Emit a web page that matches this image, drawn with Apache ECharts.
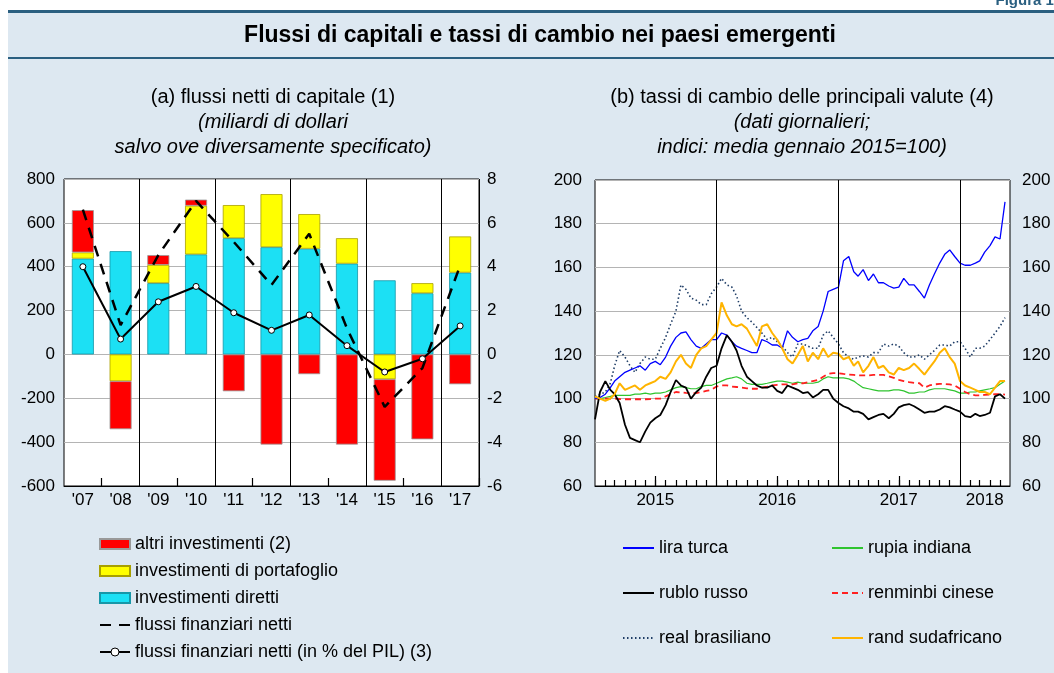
<!DOCTYPE html>
<html>
<head>
<meta charset="utf-8">
<script src="https://cdn.jsdelivr.net/npm/echarts@6/dist/echarts.min.js"></script>
<style>
html, body { margin: 0; padding: 0; background: #fff; }
#chart { width: 1054px; height: 673px; }
</style>
</head>
<body>
<div id="chart"></div>
<script>
// (a) flussi netti di capitale, miliardi di dollari
const anni = ["'07", "'08", "'09", "'10", "'11", "'12", "'13", "'14", "'15", "'16", "'17"];
const investimentiDiretti = [437, 471, 325, 456, 530, 489, 482, 414, 338, 279, 373];
const investimentiPortafoglio = [28, -122, 83, 222, 151, 242, 158, 116, -113, 46, 165];
const altriInvestimenti = [193, -219, 45, 28, -168, -411, -90, -411, -463, -387, -136];
const flussiNetti = [660, 134, 453, 700, 513, 317, 550, 119, -239, -62, 405];
const flussiPil = [4.0, 0.7, 2.4, 3.1, 1.9, 1.1, 1.8, 0.4, -0.8, -0.2, 1.3];

// (b) tassi di cambio, valori quindicinali (gen. 2015 - mag. 2018)
const liraTurca = [100, 100.5, 102, 105, 108, 110, 112, 113, 114, 115, 113, 116, 117, 115.5, 119, 124, 128, 130,
  130.5, 127, 124, 123, 125, 127, 127, 130, 129, 126, 124, 123, 122, 121, 121, 127,
  126, 124.5, 124.5, 123, 131, 128, 126, 127, 127.5, 131, 133, 140, 149, 150, 151, 163,
  165, 158, 156, 159, 154, 157, 153, 153, 151.5, 150.5, 151, 155, 152, 152, 149, 146,
  152, 157, 162, 166, 168, 165, 162, 161, 161, 162, 163, 167, 170, 174, 173, 190];
const rubloRusso = [90.5, 103, 108, 104, 102, 98, 88, 82, 81, 80, 85, 89, 91, 92.5, 97, 103, 108.5, 106,
  105, 100, 103, 105, 110, 114, 115, 123, 129, 126, 122, 115, 110, 108, 106, 105,
  105, 106, 103.5, 102.5, 106, 105, 104, 102.5, 103, 100.5, 102, 104, 104, 100, 98, 96.5,
  95.5, 94, 94, 93, 90.5, 91.5, 92.5, 93, 91, 93, 96, 97, 97.5, 96.5, 95, 93.5,
  94, 94, 95, 96.5, 96, 95, 94, 92, 91.5, 93, 92, 92.5, 93.5, 101, 102, 100];
const realBrasiliano = [101, 102, 103, 107, 115, 122, 119, 115, 112, 116, 119, 118, 118, 123, 128, 134, 140, 152,
  150, 146, 145, 143, 143, 148, 151, 155, 152, 151, 147, 140, 137, 135, 132.5, 130,
  127, 128, 126, 124, 121, 119, 125, 125, 124, 123, 123, 129, 131, 128, 125, 121,
  119, 118, 119, 119.5, 119, 121, 121, 125, 124, 125, 124, 121, 119, 119, 120, 118,
  120, 122, 124.5, 124.5, 124, 126, 126, 123, 119, 123, 123, 124, 127, 130, 133, 137];
const rupiaIndiana = [100, 100, 100.5, 101, 101.5, 101.5, 101.5, 101.5, 102, 102, 102.5, 102, 102.5, 102.5, 103, 104, 105, 105.5,
  105, 104.5, 104.5, 105.5, 106, 106, 107, 108, 109, 109.5, 110, 109, 107, 106.5, 106.5, 106.5,
  107, 107.5, 108, 108, 107.5, 107, 107.5, 107, 107, 107, 107.5, 109, 110, 109.5, 109.5, 109.5,
  109, 108, 106.5, 105, 104.5, 104, 103.5, 103.5, 103.5, 104, 104, 103.5, 102.5, 102.5, 103, 103,
  104, 104.5, 104.5, 104.5, 104, 103.5, 102.5, 102.5, 103, 103, 103.5, 104, 104.5, 105, 106.5, 108];
const renminbiCinese = [100, 100, 100, 100, 100, 99.8, 99.7, 99.7, 99.7, 99.7, 99.7, 99.8, 100, 100, 101, 102, 103, 102.8,
  102.6, 102.5, 102.5, 103, 103.5, 104, 105.5, 106, 106, 105.5, 105.3, 105, 104.7, 104.5, 104.5, 105,
  105.5, 106, 106.3, 106.5, 106.5, 106.5, 107, 107, 107.5, 108, 108.5, 110, 111.3, 111.6, 111.6, 111.3,
  111, 110.8, 110.6, 110.6, 110.6, 110.8, 110.9, 110.8, 110.2, 109.5, 108.6, 108, 107.5, 107.2, 107, 105,
  106, 106.5, 106.7, 106.7, 106.5, 106, 104.5, 103, 102, 101.5, 101.5, 101.7, 101.8, 102, 102, 101.8];
const randSudafricano = [101, 100, 99, 100, 102, 107, 104, 105, 106, 104, 106, 107, 108, 110, 109, 112, 117, 120,
  116, 114, 120, 123, 124, 127, 130, 144, 138, 134, 133, 134, 132, 128, 124, 133,
  134, 130, 127, 123, 118, 116, 120, 124, 117, 121, 118, 123, 119, 121, 120.5, 118,
  119, 115, 117, 112, 115, 119, 114, 115, 112, 111, 114, 113, 114, 116, 113.5, 111,
  114, 117, 121, 123, 119, 116, 108, 106, 105, 104, 103, 103, 102, 105, 108, 108];

const ts = (y, m, d) => new Date(y, m, d).getTime();
// date: il 1 e il 16 di ogni mese
const date = [];
for (let i = 0; i < 41; i++) {
  const y = 2015 + Math.floor(i / 12), m = i % 12;
  date.push(ts(y, m, 1), ts(y, m, 16));
}
const mesi = [];
for (let i = 1; i <= 40; i++) mesi.push(ts(2015 + Math.floor(i / 12), i % 12, 1));
const luglio = [ts(2015, 6, 1), ts(2016, 6, 1), ts(2017, 6, 1)];
const inizioAnno = [ts(2016, 0, 1), ts(2017, 0, 1), ts(2018, 0, 1)];
const posEtichette = [ts(2015, 6, 1), ts(2016, 6, 1), ts(2017, 6, 1), ts(2018, 2, 16)];
const coppie = (vals) => vals.map((v, i) => [date[i], v]);

const FONT = '"Liberation Sans", Arial, Helvetica, sans-serif';
const testo = { fontFamily: FONT, color: '#000' };
// voce di legenda con sola linea (senza simbolo)
const soloLinea = (name) => ({ name, itemStyle: { opacity: 0 } });

const chart = echarts.init(document.getElementById('chart'));

const option = {
  animation: false,
  backgroundColor: '#fff',
  textStyle: { fontFamily: FONT },
  graphic: {
    elements: [
      { type: 'rect', z: -10, silent: true, shape: { x: 8, y: 12, width: 1100, height: 700 }, style: { fill: '#dde8f1' } },
      { type: 'rect', z: -9, silent: true, shape: { x: 8, y: 10, width: 1100, height: 3 }, style: { fill: '#2a5f80' } },
      { type: 'rect', z: -9, silent: true, shape: { x: 8, y: 57, width: 1100, height: 2 }, style: { fill: '#2a5f80' } },
      { type: 'text', x: 1058, y: 8, style: { text: 'Figura 1.', font: 'bold 15px ' + FONT, fill: '#2a5f80', align: 'right', verticalAlign: 'bottom' } },
      { type: 'text', x: 540, y: 36, style: { text: 'Flussi di capitali e tassi di cambio nei paesi emergenti', font: 'bold 23px ' + FONT, fill: '#000', align: 'center', verticalAlign: 'middle' } },
      { type: 'text', x: 273, y: 97, style: { text: '(a) flussi netti di capitale (1)', font: '20px ' + FONT, fill: '#000', align: 'center', verticalAlign: 'middle' } },
      { type: 'text', x: 273, y: 122, style: { text: '(miliardi di dollari', font: 'italic 20px ' + FONT, fill: '#000', align: 'center', verticalAlign: 'middle' } },
      { type: 'text', x: 273, y: 147, style: { text: 'salvo ove diversamente specificato)', font: 'italic 20px ' + FONT, fill: '#000', align: 'center', verticalAlign: 'middle' } },
      { type: 'text', x: 802, y: 97, style: { text: '(b) tassi di cambio delle principali valute (4)', font: '20px ' + FONT, fill: '#000', align: 'center', verticalAlign: 'middle' } },
      { type: 'text', x: 802, y: 122, style: { text: '(dati giornalieri;', font: 'italic 20px ' + FONT, fill: '#000', align: 'center', verticalAlign: 'middle' } },
      { type: 'text', x: 802, y: 147, style: { text: 'indici: media gennaio 2015=100)', font: 'italic 20px ' + FONT, fill: '#000', align: 'center', verticalAlign: 'middle' } }
    ]
  },
  legend: [
    {
      data: [
        { name: 'altri investimenti (2)', icon: 'rect' },
        { name: 'investimenti di portafoglio', icon: 'rect' },
        { name: 'investimenti diretti', icon: 'rect' },
        soloLinea('flussi finanziari netti'),
        { name: 'flussi finanziari netti (in % del PIL) (3)', itemStyle: { color: '#fff', borderColor: '#000', borderWidth: 1 } }
      ],
      orient: 'vertical', left: 94, top: 530, itemWidth: 30, itemHeight: 10, itemGap: 9,
      selectedMode: false, textStyle: { ...testo, fontSize: 18, lineHeight: 18 }
    },
    {
      data: ['lira turca', 'rublo russo', 'real brasiliano'].map(soloLinea),
      orient: 'vertical', left: 617, top: 534, itemWidth: 31, itemHeight: 10, itemGap: 27,
      selectedMode: false, textStyle: { ...testo, fontSize: 18, lineHeight: 18 }
    },
    {
      data: ['rupia indiana', 'renminbi cinese', 'rand sudafricano'].map(soloLinea),
      orient: 'vertical', left: 826, top: 534, itemWidth: 31, itemHeight: 10, itemGap: 27,
      selectedMode: false, textStyle: { ...testo, fontSize: 18, lineHeight: 18 }
    }
  ],
  grid: [
    { left: 64, top: 179, width: 415, height: 307, show: true, backgroundColor: '#fff', borderColor: '#000', borderWidth: 1 },
    { left: 595, top: 180, width: 415, height: 306, show: true, backgroundColor: '#fff', borderColor: '#000', borderWidth: 1 }
  ],
  xAxis: [
    {
      gridIndex: 0, type: 'category', data: anni,
      axisLine: { show: true, onZero: false, lineStyle: { color: '#000', width: 1 } },
      axisTick: { show: true, inside: true, length: 8, interval: (i) => i % 2 === 1, lineStyle: { color: '#000', width: 1.2 } },
      splitLine: { show: true, interval: (i) => i > 0 && i % 2 === 0, lineStyle: { color: '#000', width: 1 } },
      axisLabel: { ...testo, fontSize: 17, margin: 6 }
    },
    {
      gridIndex: 1, type: 'value', min: ts(2015, 0, 1), max: ts(2018, 4, 31),
      axisLine: { show: true, onZero: false, lineStyle: { color: '#000', width: 1 } },
      axisTick: { show: true, inside: true, length: 6, customValues: mesi, lineStyle: { color: '#000', width: 1.2 } },
      axisLabel: { ...testo, fontSize: 17, margin: 6, customValues: posEtichette, formatter: (v) => String(new Date(v).getFullYear()) },
      splitLine: { show: false }
    },
    {
      gridIndex: 1, type: 'value', position: 'bottom', min: ts(2015, 0, 1), max: ts(2018, 4, 31),
      axisLine: { show: false, onZero: false },
      axisTick: { show: true, inside: true, length: 10, customValues: luglio, lineStyle: { color: '#000', width: 1.2 } },
      axisLabel: { show: false },
      splitLine: { show: false }
    }
  ],
  yAxis: [
    {
      gridIndex: 0, type: 'value', min: -600, max: 800, interval: 200,
      axisLine: { show: false }, axisTick: { show: false },
      splitLine: { lineStyle: { color: '#b4b4b4', width: 1 } },
      axisLabel: { ...testo, fontSize: 17, margin: 9 }
    },
    {
      gridIndex: 0, type: 'value', position: 'right', min: -6, max: 8, interval: 2,
      axisLine: { show: false }, axisTick: { show: false }, splitLine: { show: false },
      axisLabel: { ...testo, fontSize: 17, margin: 8 }
    },
    {
      gridIndex: 1, type: 'value', min: 60, max: 200, interval: 20,
      axisLine: { show: false }, axisTick: { show: false },
      splitLine: { lineStyle: { color: '#b4b4b4', width: 1 } },
      axisLabel: { ...testo, fontSize: 17, margin: 13 }
    },
    {
      gridIndex: 1, type: 'value', position: 'right', min: 60, max: 200, interval: 20,
      axisLine: { show: false }, axisTick: { show: false }, splitLine: { show: false },
      axisLabel: { ...testo, fontSize: 17, margin: 12 }
    }
  ],
  series: [
    {
      name: 'investimenti diretti', type: 'bar', stack: 'flussi', xAxisIndex: 0, yAxisIndex: 0,
      data: investimentiDiretti, barWidth: 22,
      itemStyle: { color: '#1ce0f4', borderColor: '#1797a8', borderWidth: 0.8 }
    },
    {
      name: 'investimenti di portafoglio', type: 'bar', stack: 'flussi', xAxisIndex: 0, yAxisIndex: 0,
      data: investimentiPortafoglio, barWidth: 22,
      itemStyle: { color: '#ffff00', borderColor: '#a8a000', borderWidth: 0.8 }
    },
    {
      name: 'altri investimenti (2)', type: 'bar', stack: 'flussi', xAxisIndex: 0, yAxisIndex: 0,
      data: altriInvestimenti, barWidth: 22,
      itemStyle: { color: '#ff0000', borderColor: '#999999', borderWidth: 0.8 }
    },
    {
      name: 'flussi finanziari netti', type: 'line', xAxisIndex: 0, yAxisIndex: 0,
      data: flussiNetti, symbol: 'none', z: 5,
      lineStyle: { color: '#000', width: 2.5, type: [11, 8] }, itemStyle: { color: '#000' }
    },
    {
      name: 'flussi finanziari netti (in % del PIL) (3)', type: 'line', xAxisIndex: 0, yAxisIndex: 1,
      data: flussiPil, symbol: 'circle', symbolSize: 6, z: 6,
      lineStyle: { color: '#000', width: 2 },
      itemStyle: { color: '#fff', borderColor: '#000', borderWidth: 1 }
    },
    {
      name: 'rupia indiana', type: 'line', xAxisIndex: 1, yAxisIndex: 2, data: coppie(rupiaIndiana),
      symbol: 'none', lineStyle: { color: '#2fc42f', width: 1.2 }, itemStyle: { color: '#2fc42f' }
    },
    {
      name: 'renminbi cinese', type: 'line', xAxisIndex: 1, yAxisIndex: 2, data: coppie(renminbiCinese),
      symbol: 'none', lineStyle: { color: '#ff2020', width: 1.8, type: [6, 4] }, itemStyle: { color: '#ff2020' }
    },
    {
      name: 'real brasiliano', type: 'line', xAxisIndex: 1, yAxisIndex: 2, data: coppie(realBrasiliano),
      symbol: 'none', lineStyle: { color: '#1f3d66', width: 1.6, type: [1.5, 2.5] }, itemStyle: { color: '#1f3d66' }
    },
    {
      name: 'lira turca', type: 'line', xAxisIndex: 1, yAxisIndex: 2, data: coppie(liraTurca),
      symbol: 'none', lineStyle: { color: '#0000ff', width: 1.3 }, itemStyle: { color: '#0000ff' },
      markLine: {
        silent: true, symbol: ['none', 'none'], label: { show: false },
        lineStyle: { color: '#000', width: 1, type: 'solid' },
        data: inizioAnno.map((t) => ({ xAxis: t }))
      }
    },
    {
      name: 'rublo russo', type: 'line', xAxisIndex: 1, yAxisIndex: 2, data: coppie(rubloRusso),
      symbol: 'none', lineStyle: { color: '#000', width: 1.8 }, itemStyle: { color: '#000' }
    },
    {
      name: 'rand sudafricano', type: 'line', xAxisIndex: 1, yAxisIndex: 2, data: coppie(randSudafricano),
      symbol: 'none', lineStyle: { color: '#ffb400', width: 2 }, itemStyle: { color: '#ffb400' }
    }
  ]
};

chart.setOption(option);
</script>
</body>
</html>
